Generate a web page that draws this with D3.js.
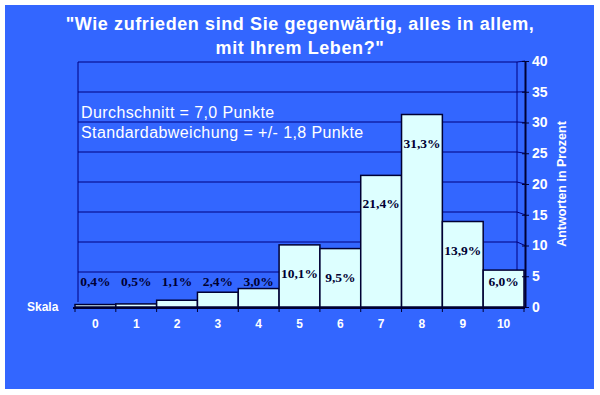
<!DOCTYPE html>
<html>
<head>
<meta charset="utf-8">
<script src="https://cdn.jsdelivr.net/npm/d3@7"></script>
<style>
  html, body { margin: 0; padding: 0; background: #fff; }
  svg { display: block; font-family: Arial, 'Liberation Sans', sans-serif; }
</style>
</head>
<body>
<div id="chart"></div>
<script>
const categories = ['0', '1', '2', '3', '4', '5', '6', '7', '8', '9', '10'];
const values = [0.4, 0.5, 1.1, 2.4, 3.0, 10.1, 9.5, 21.4, 31.3, 13.9, 6.0];
const valueLabels = ['0,4%', '0,5%', '1,1%', '2,4%', '3,0%', '10,1%', '9,5%', '21,4%', '31,3%', '13,9%', '6,0%'];
const yTicks = [0, 5, 10, 15, 20, 25, 30, 35, 40];
const titleLines = ['"Wie zufrieden sind Sie gegenwärtig, alles in allem,', 'mit Ihrem Leben?"'];
const notes = ['Durchschnitt = 7,0 Punkte', 'Standardabweichung = +/- 1,8 Punkte'];

const width = 600, height = 395;
const navy = '#000033';

const svg = d3.select('#chart').append('svg')
  .attr('width', width)
  .attr('height', height);

svg.append('rect')
  .attr('x', 5).attr('y', 5)
  .attr('width', 589).attr('height', 384)
  .attr('fill', '#3366ff');

const x = d3.scaleBand().domain(categories).range([75, 524]).padding(0);
const y = d3.scaleLinear().domain([0, 40]).range([307, 61]);
// back wall sits a little higher / narrower (pseudo 3D)
const yBack = d3.scaleLinear().domain([0, 40]).range([302, 62]);
const wallLeft = 78, wallRight = 517, axisX = 525;

// gridlines on back wall
const grid = svg.append('g').attr('stroke', '#000080').attr('stroke-width', 1);
grid.selectAll('line.g')
  .data(yTicks.filter(d => d > 0))
  .join('line')
  .attr('x1', wallLeft).attr('x2', wallRight)
  .attr('y1', d => yBack(d)).attr('y2', d => yBack(d));
grid.selectAll('line.d')
  .data(yTicks.filter(d => d > 0))
  .join('line')
  .attr('x1', wallRight).attr('x2', axisX)
  .attr('y1', d => yBack(d)).attr('y2', d => y(d));
grid.append('line')
  .attr('x1', wallLeft).attr('x2', wallLeft)
  .attr('y1', yBack(40)).attr('y2', yBack(0));
grid.append('line')
  .attr('x1', wallRight).attr('x2', wallRight)
  .attr('y1', yBack(40)).attr('y2', yBack(0));

// bars
svg.append('g')
  .selectAll('rect')
  .data(values)
  .join('rect')
  .attr('x', (d, i) => x(categories[i]))
  .attr('y', d => y(d))
  .attr('width', x.bandwidth())
  .attr('height', d => y(0) - y(d))
  .attr('fill', '#ddffff')
  .attr('stroke', navy)
  .attr('stroke-width', 1.5);

// value labels
svg.append('g')
  .selectAll('text')
  .data(values)
  .join('text')
  .attr('x', (d, i) => x(categories[i]) + x.bandwidth() / 2)
  .attr('y', d => Math.min(y(d) + 33, 286))
  .attr('text-anchor', 'middle')
  .attr('font-family', "'Liberation Serif', 'Times New Roman', serif")
  .attr('font-weight', 'bold')
  .attr('font-size', '13.5px')
  .attr('fill', navy)
  .text((d, i) => valueLabels[i]);

// x axis baseline
svg.append('line')
  .attr('x1', 73).attr('x2', axisX)
  .attr('y1', y(0) + 1).attr('y2', y(0) + 1)
  .attr('stroke', navy).attr('stroke-width', 2);
svg.append('g')
  .selectAll('line')
  .data(d3.range(categories.length + 1))
  .join('line')
  .attr('x1', i => 75 + i * x.bandwidth())
  .attr('x2', i => 75 + i * x.bandwidth())
  .attr('y1', y(0) + 1).attr('y2', y(0) + 5)
  .attr('stroke', navy).attr('stroke-width', 1);

svg.append('g')
  .selectAll('text')
  .data(categories)
  .join('text')
  .attr('x', d => x(d) + x.bandwidth() / 2)
  .attr('y', 328)
  .attr('text-anchor', 'middle')
  .attr('font-weight', 'bold')
  .attr('font-size', '12px')
  .attr('fill', '#fff')
  .text(d => d);

svg.append('text')
  .attr('x', 27).attr('y', 311)
  .attr('font-weight', 'bold')
  .attr('font-size', '12px')
  .attr('fill', '#fff')
  .text('Skala');

// right y axis
const yAxis = svg.append('g')
  .attr('transform', `translate(${axisX},0)`)
  .call(d3.axisRight(y).tickValues(yTicks).tickSizeInner(4).tickSizeOuter(0).tickPadding(3));
yAxis.select('.domain').attr('stroke', navy).attr('stroke-width', 2);
yAxis.selectAll('.tick line').attr('x1', -3).attr('stroke', navy).attr('stroke-width', 1);
yAxis.selectAll('.tick text')
  .attr('fill', '#fff')
  .attr('font-family', "'Liberation Sans Narrow', Arial, sans-serif")
  .attr('font-weight', 'bold')
  .attr('font-size', '14px');

svg.append('text')
  .attr('transform', 'translate(566,184) rotate(-90)')
  .attr('text-anchor', 'middle')
  .attr('font-weight', 'bold')
  .attr('font-size', '12.5px')
  .attr('fill', '#fff')
  .text('Antworten in Prozent');

// title
svg.append('g')
  .selectAll('text')
  .data(titleLines)
  .join('text')
  .attr('x', 300)
  .attr('y', (d, i) => 30 + i * 24)
  .attr('text-anchor', 'middle')
  .attr('font-weight', 'bold')
  .attr('font-size', '18px')
  .attr('letter-spacing', '0.6px')
  .attr('fill', '#fff')
  .text(d => d);

// notes
svg.append('g')
  .selectAll('text')
  .data(notes)
  .join('text')
  .attr('x', 81)
  .attr('y', (d, i) => 118 + i * 20)
  .attr('font-size', '16px')
  .attr('letter-spacing', '0.4px')
  .attr('fill', '#fff')
  .text(d => d);
</script>
</body>
</html>
